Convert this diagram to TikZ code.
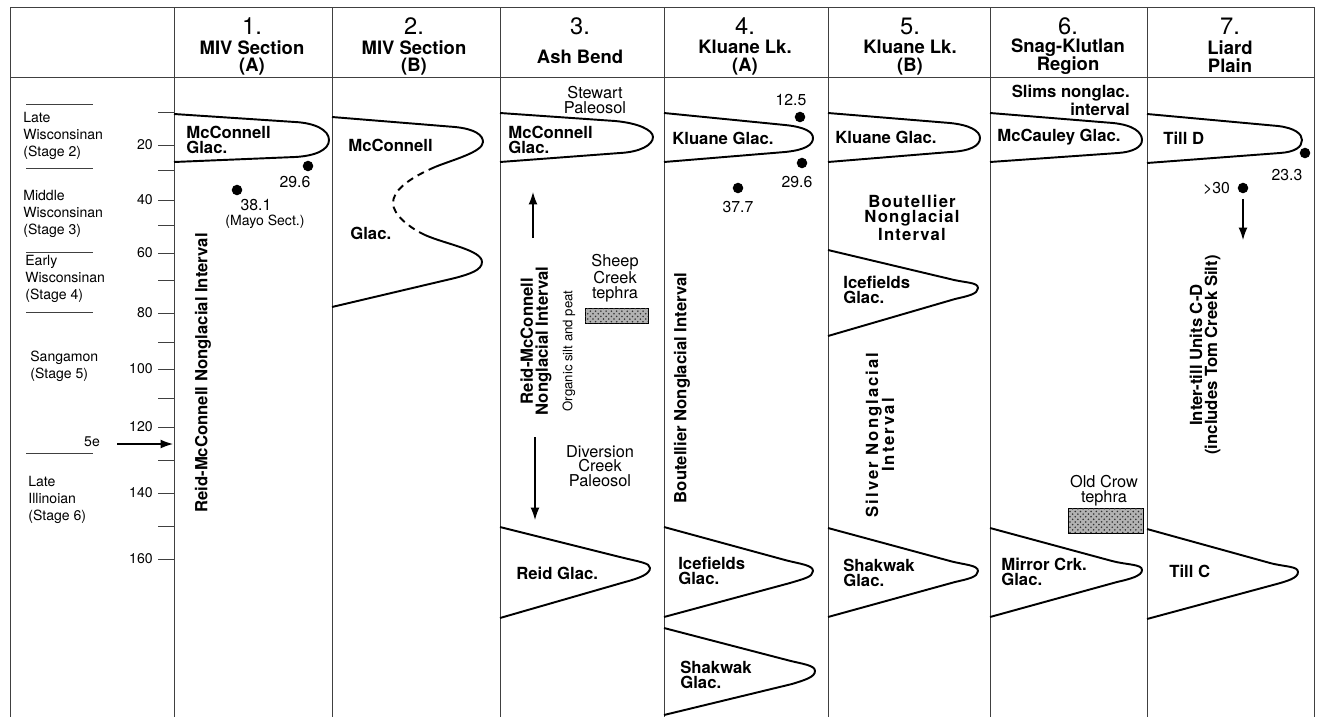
\documentclass[tikz,border=0pt]{standalone}
\usepackage{fontspec}
\setmainfont{TeX Gyre Heros}
\usetikzlibrary{positioning, arrows.meta, patterns}

\begin{document}
\begin{tikzpicture}[x=0.02cm, y=-0.02cm]

    % Define styles
    \tikzstyle{gridline} = [line width=0.5pt, black!75]
    \tikzstyle{lobe} = [line width=1.1pt, line join=round]
    \tikzstyle{arr} = [line width=0.7pt, -{Latex[length=7pt, width=5pt]}]
    \tikzstyle{dotmark} = [circle, fill, inner sep=0pt, minimum size=6pt]
    \tikzstyle{hnum} = [inner sep=0pt, font=\fontsize{13.5}{14}\selectfont]
    \tikzstyle{htitle} = [inner sep=0pt, align=center, font=\bfseries\fontsize{10.5}{10.2}\selectfont]
    \tikzstyle{glac} = [inner sep=0pt, anchor=west, align=left, font=\bfseries\fontsize{9.5}{8.9}\selectfont]
    \tikzstyle{note} = [inner sep=0pt, align=center, font=\fontsize{9.3}{8.6}\selectfont]
    \tikzstyle{agelbl} = [inner sep=0pt, font=\fontsize{9}{9}\selectfont]
    \tikzstyle{stagelbl} = [inner sep=0pt, anchor=west, align=left, font=\fontsize{8}{9.8}\selectfont]
    \tikzstyle{ticklbl} = [inner sep=0pt, anchor=east, font=\fontsize{8}{8}\selectfont]
    \tikzstyle{nglac} = [inner sep=0pt, rotate=90, align=center, font=\bfseries\fontsize{9.5}{8.6}\selectfont]
    \tikzstyle{tephrabox} = [fill=black!30, postaction={pattern=crosshatch dots, pattern color=black!80}]

    \useasboundingbox (0,0) rectangle (1322,717);

    % TABLE
    \draw[gridline] (10,7) -- (1314,7);
    \draw[gridline] (10,77) -- (1314,77);
    \foreach \x in {10,174,332,500,664,828,990,1147,1314}
        \draw[gridline] (\x,7) -- (\x,717);

    % HEADER
    \node (col1_num) [hnum] at (252,26) {1.};
    \node (col1_title) [htitle] at (252,58) {MIV Section\\(A)};
    \node (col2_num) [hnum] at (414,26) {2.};
    \node (col2_title) [htitle] at (414,58) {MIV Section\\(B)};
    \node (col3_num) [hnum] at (580,26) {3.};
    \node (col3_title) [htitle] at (580,57) {Ash Bend};
    \node (col4_num) [hnum] at (745,26) {4.};
    \node (col4_title) [htitle] at (745,58) {Kluane Lk.\\(A)};
    \node (col5_num) [hnum] at (910,26) {5.};
    \node (col5_title) [htitle] at (910,58) {Kluane Lk.\\(B)};
    \node (col6_num) [hnum] at (1068,26) {6.};
    \node (col6_title) [htitle] at (1068,57) {Snag-Klutlan\\Region};
    \node (col7_num) [hnum] at (1230,26) {7.};
    \node (col7_title) [htitle] at (1230,57) {Liard\\Plain};

    % AGE SCALE
    \foreach \y/\lab [count=\i] in {112/{},145/20,170/{},200/40,225/{},253/60,280/{},313/80,
                                    342/{},369/100,398/{},427/120,460/{},493/140,526/{},559/160} {
        \draw[gridline] (158,\y) -- (174,\y);
        \node (tick\i) [ticklbl] at (153,\y) {\lab};
    }

    \foreach \y in {104,168,252,312,453}
        \draw[gridline] (26,\y) -- (93,\y);

    \node (stage2) [stagelbl] at (23,136) {Late\\Wisconsinan\\(Stage 2)};
    \node (stage3) [stagelbl] at (23,214) {Middle\\Wisconsinan\\(Stage 3)};
    \node (stage4) [stagelbl] at (25,279) {Early\\Wisconsinan\\(Stage 4)};
    \node (stage5) [stagelbl] at (30,366) {Sangamon\\(Stage 5)};
    \node (stage6) [stagelbl] at (28,500) {Late\\Illinoian\\(Stage 6)};

    \node (mis5e) [stagelbl, anchor=center] at (92,442) {5e};
    \coordinate (mis5e_tail) at (117,444);
    \coordinate (mis5e_head) at (173,444);
    \draw[arr] (mis5e_tail) -- (mis5e_head);

    % 1. MIV SECTION (A)
    \draw[lobe] (174,114) -- (295,122) .. controls (315,123) and (329,130) .. (329,140)
        .. controls (329,150) and (315,156) .. (295,157) -- (174,162);
    \node (miva_glac) [glac] at (186,140) {McConnell\\Glac.};
    \node (miva_dot296) [dotmark] at (308,166) {};
    \node (miva_age296) [agelbl] at (295,182) {29.6};
    \node (miva_dot381) [dotmark] at (237,190) {};
    \node (miva_age381) [agelbl] at (256,205) {38.1};
    \node (miva_mayo) [agelbl, font=\fontsize{8}{8}\selectfont] at (265,222) {(Mayo Sect.)};
    \node (miva_interval) [nglac] at (203,373) {Reid-McConnell Nonglacial Interval};

    % 2. MIV SECTION (B)
    \draw[lobe] (332,117) -- (455,127) .. controls (475,129) and (483,135) .. (483,142)
        .. controls (483,152) and (452,160) .. (435,167);
    \draw[lobe, dash pattern=on 4pt off 3pt] (435,167) .. controls (405,180) and (393,192) .. (393,203)
        .. controls (393,215) and (410,228) .. (425,235);
    \draw[lobe] (425,235) .. controls (445,244) and (482,250) .. (482,262)
        .. controls (482,270) and (470,274) .. (455,278) -- (332,307);
    \node (mivb_glac1) [glac] at (348,145) {McConnell};
    \node (mivb_glac2) [glac] at (350,233) {Glac.};

    % 3. ASH BEND
    \node (ash_stewart) [note] at (595,100) {Stewart\\Paleosol};
    \draw[lobe] (500,113) -- (615,121) .. controls (638,123) and (653,130) .. (653,137)
        .. controls (653,145) and (640,152) .. (620,153) -- (500,162);
    \node (ash_glac) [glac] at (508,140) {McConnell\\Glac.};
    \coordinate (ash_up_tail) at (533,238);
    \coordinate (ash_up_head) at (533,192);
    \draw[arr] (ash_up_tail) -- (ash_up_head);
    \node (ash_interval) [nglac] at (536,341) {Reid-McConnell\\Nonglacial Interval};
    \node (ash_organic) [inner sep=0pt, rotate=90, font=\fontsize{7.5}{7.5}\selectfont] at (569,351) {Organic silt and peat};
    \node (ash_sheep) [note, font=\fontsize{9.3}{8.4}\selectfont] at (615,278) {Sheep\\Creek\\tephra};
    \draw[tephrabox] (585,308) rectangle (648,323);
    \coordinate (ash_down_tail) at (535,437);
    \coordinate (ash_down_head) at (535,520);
    \draw[arr] (ash_down_tail) -- (ash_down_head);
    \node (ash_diversion) [note, font=\fontsize{9.3}{8.4}\selectfont] at (600,466) {Diversion\\Creek\\Paleosol};
    \draw[lobe] (500,527) -- (620,557) .. controls (640,562) and (650,563) .. (650,568)
        .. controls (650,574) and (640,578) .. (625,582) -- (500,618);
    \node (ash_reid) [glac] at (516,573) {Reid Glac.};

    % 4. KLUANE LK. (A)
    \node (kla_dot125) [dotmark] at (800,117) {};
    \node (kla_age125) [agelbl] at (791,100) {12.5};
    \draw[lobe] (664,113) -- (785,125) .. controls (805,127) and (813,132) .. (813,138)
        .. controls (813,145) and (805,150) .. (785,152) -- (664,162);
    \node (kla_glac) [glac] at (672,138) {Kluane Glac.};
    \node (kla_dot296) [dotmark] at (802,163) {};
    \node (kla_age296) [agelbl] at (797,182) {29.6};
    \node (kla_dot377) [dotmark] at (738,188) {};
    \node (kla_age377) [agelbl, below=4pt of kla_dot377] {37.7};
    \node (kla_interval) [nglac] at (682,388) {Boutellier Nonglacial Interval};
    \draw[lobe] (664,527) -- (785,560) .. controls (800,564) and (813,565) .. (813,571)
        .. controls (813,577) and (803,579) .. (790,583) -- (664,617);
    \node (kla_icefields) [glac] at (678,571) {Icefields\\Glac.};
    \draw[lobe] (664,628) -- (787,660) .. controls (802,664) and (815,665) .. (815,671)
        .. controls (815,677) and (805,680) .. (792,684) -- (664,715);
    \node (kla_shakwak) [glac] at (680,675) {Shakwak\\Glac.};

    % 5. KLUANE LK. (B)
    \draw[lobe] (828,113) -- (950,123) .. controls (970,125) and (980,131) .. (980,138)
        .. controls (980,146) and (970,151) .. (950,152) -- (828,162);
    \node (klb_glac) [glac] at (835,137) {Kluane Glac.};
    \node (klb_boutellier) [note, font=\bfseries\fontsize{9.5}{8.6}\selectfont\addfontfeatures{LetterSpace=7}] at (912,218) {Boutellier\\Nonglacial\\Interval};
    \draw[lobe] (828,250) -- (950,279) .. controls (965,283) and (978,282) .. (978,288)
        .. controls (978,294) and (968,296) .. (955,299) -- (828,336);
    \node (klb_icefields) [glac] at (843,290) {Icefields\\Glac.};
    \node (klb_interval) [nglac, font=\bfseries\fontsize{9.5}{9}\selectfont\addfontfeatures{LetterSpace=12}] at (880,435) {Silver Nonglacial\\Interval};
    \draw[lobe] (828,528) -- (950,561) .. controls (965,565) and (978,565) .. (978,571)
        .. controls (978,577) and (968,579) .. (955,582) -- (828,617);
    \node (klb_shakwak) [glac] at (843,573) {Shakwak\\Glac.};

    % 6. SNAG-KLUTLAN REGION
    \node (snag_slims) [glac, anchor=east, align=right] at (1130,100) {Slims nonglac.\\interval};
    \draw[lobe] (990,113) -- (1113,123) .. controls (1133,125) and (1142,132) .. (1142,140)
        .. controls (1142,147) and (1133,152) .. (1118,153) -- (990,162);
    \node (snag_glac) [glac] at (997,137) {McCauley Glac.};
    \node (snag_oldcrow) [note] at (1104,491) {Old Crow\\tephra};
    \draw[tephrabox] (1068,508) rectangle (1143,533);
    \draw[lobe] (990,528) -- (1112,561) .. controls (1127,565) and (1142,564) .. (1142,570)
        .. controls (1142,576) and (1130,579) .. (1117,582) -- (990,617);
    \node (snag_mirror) [glac] at (1001,572) {Mirror Crk.\\Glac.};

    % 7. LIARD PLAIN
    \draw[lobe] (1147,114) -- (1278,126) .. controls (1295,128) and (1302,134) .. (1302,140)
        .. controls (1302,147) and (1295,152) .. (1280,153) -- (1147,163);
    \node (liard_tilld) [glac] at (1163,138) {Till D};
    \node (liard_dot233) [dotmark] at (1305,153) {};
    \node (liard_age233) [agelbl] at (1287,175) {23.3};
    \node (liard_dot30) [dotmark] at (1243,188) {};
    \node (liard_age30) [agelbl, left=4pt of liard_dot30] {>30};
    \coordinate (liard_down_head) at (1243,240);
    \draw[arr, shorten <=3pt] (liard_dot30.south) -- (liard_down_head);
    \node (liard_interval) [nglac] at (1205,355) {Inter-till Units C-D\\(includes Tom Creek Silt)};
    \draw[lobe] (1147,529) -- (1270,563) .. controls (1285,567) and (1298,566) .. (1298,572)
        .. controls (1298,578) and (1288,581) .. (1273,585) -- (1147,619);
    \node (liard_tillc) [glac] at (1169,571) {Till C};

\end{tikzpicture}
\end{document}
